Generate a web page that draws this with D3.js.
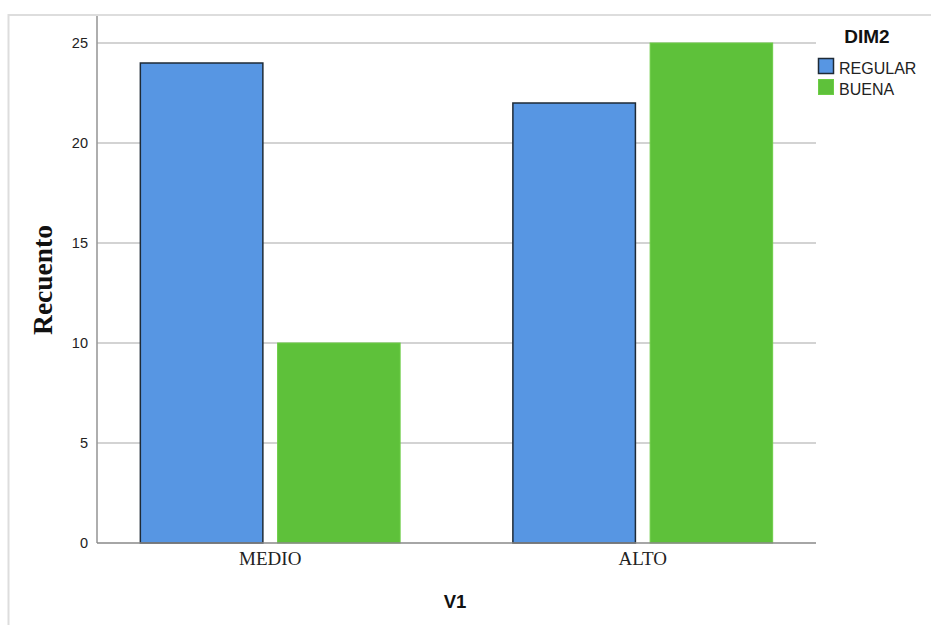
<!DOCTYPE html>
<html>
<head>
<meta charset="utf-8">
<script src="https://cdn.jsdelivr.net/npm/d3@7"></script>
<style>
  html, body { margin: 0; padding: 0; background: #ffffff; }
  svg { display: block; }
</style>
</head>
<body>
<div id="chart"></div>
<script>
// ---- data ----
const categories = ["MEDIO", "ALTO"];
const seriesNames = ["REGULAR", "BUENA"];
const regularValues = [24, 22];
const buenaValues = [10, 25];
const yTicks = [0, 5, 10, 15, 20, 25];
const legendTitle = "DIM2";
const xTitle = "V1";
const yTitle = "Recuento";

const colors = { REGULAR: "#5796e3", BUENA: "#5ec13a" };
const strokes = { REGULAR: "#1e2a36", BUENA: "#6ccd45" };

const W = 931, H = 625;
const plot = { left: 97, right: 816, top: 16, bottom: 543 };

const svg = d3.select("#chart").append("svg")
  .attr("width", W).attr("height", H);

// outer frame (partial, light gray)
svg.append("path")
  .attr("d", `M8.5,${H} L8.5,15 L${W},15`)
  .attr("fill", "none").attr("stroke", "#dddddd").attr("stroke-width", 2);

const data = categories.map((c, i) => ({
  cat: c,
  values: [
    { key: "REGULAR", value: regularValues[i] },
    { key: "BUENA", value: buenaValues[i] }
  ]
}));

const x0 = d3.scaleBand().domain(categories)
  .range([plot.left, plot.right]).paddingInner(0.3).paddingOuter(0.115);
const x1 = d3.scaleBand().domain(seriesNames)
  .range([0, x0.bandwidth()]).paddingInner(0.1).paddingOuter(0);
const yTop = 25 * 1.054;
const y = d3.scaleLinear().domain([0, yTop]).range([plot.bottom, plot.top]);

// gridlines
svg.append("g").selectAll("line").data(yTicks.filter(t => t > 0)).join("line")
  .attr("x1", plot.left).attr("x2", plot.right)
  .attr("y1", d => y(d)).attr("y2", d => y(d))
  .attr("stroke", "#c4c4c4").attr("stroke-width", 1.6);

// y axis
const yAxis = svg.append("g").attr("transform", `translate(${plot.left},0)`)
  .call(d3.axisLeft(y).tickValues(yTicks).tickSize(0).tickPadding(9));
yAxis.select(".domain").remove();
yAxis.selectAll("text")
  .attr("font-family", "Liberation Sans, Arial, sans-serif")
  .attr("font-size", 14.5).attr("fill", "#222");
svg.append("line")
  .attr("x1", plot.left).attr("x2", plot.left)
  .attr("y1", plot.top).attr("y2", plot.bottom)
  .attr("stroke", "#9a9a9a").attr("stroke-width", 1.6);

// bars
const groups = svg.append("g").selectAll("g").data(data).join("g")
  .attr("transform", d => `translate(${x0(d.cat)},0)`);
groups.selectAll("rect").data(d => d.values).join("rect")
  .attr("x", d => x1(d.key) + 0.5)
  .attr("width", d => x1.bandwidth() - 1)
  .attr("y", d => y(d.value))
  .attr("height", d => y(0) - y(d.value))
  .attr("fill", d => colors[d.key])
  .attr("stroke", d => strokes[d.key])
  .attr("stroke-width", d => d.key === "REGULAR" ? 1.5 : 1);

// x baseline
svg.append("line")
  .attr("x1", plot.left).attr("x2", plot.right)
  .attr("y1", plot.bottom).attr("y2", plot.bottom)
  .attr("stroke", "#888888").attr("stroke-width", 1.6);

// x axis labels
const xAxis = svg.append("g").attr("transform", `translate(0,${plot.bottom})`)
  .call(d3.axisBottom(x0).tickSize(0).tickPadding(9));
xAxis.select(".domain").remove();
xAxis.selectAll("text")
  .attr("font-family", "Liberation Serif, Times New Roman, serif")
  .attr("font-size", 19).attr("fill", "#222");

// axis titles
svg.append("text").attr("x", 455).attr("y", 608)
  .attr("text-anchor", "middle")
  .attr("font-family", "Liberation Sans, Arial, sans-serif")
  .attr("font-weight", "bold").attr("font-size", 18.5).attr("fill", "#111")
  .text(xTitle);
svg.append("text")
  .attr("transform", "translate(52,280) rotate(-90)")
  .attr("text-anchor", "middle")
  .attr("font-family", "Liberation Serif, Times New Roman, serif")
  .attr("font-weight", "bold").attr("font-size", 27.5).attr("fill", "#111")
  .text(yTitle);

// legend
svg.append("text").attr("x", 867).attr("y", 43)
  .attr("text-anchor", "middle")
  .attr("font-family", "Liberation Sans, Arial, sans-serif")
  .attr("font-weight", "bold").attr("font-size", 19).attr("fill", "#111")
  .text(legendTitle);
const leg = svg.append("g").selectAll("g").data(seriesNames).join("g")
  .attr("transform", (d, i) => `translate(818.5,${58.5 + i * 21})`);
leg.append("rect").attr("width", 15).attr("height", 15)
  .attr("fill", d => colors[d])
  .attr("stroke", d => strokes[d]).attr("stroke-width", d => d === "REGULAR" ? 1.5 : 1);
leg.append("text").attr("x", 20.5).attr("y", 15.5)
  .attr("font-family", "Liberation Sans, Arial, sans-serif")
  .attr("font-size", 16).attr("fill", "#222")
  .text(d => d);
</script>
</body>
</html>
